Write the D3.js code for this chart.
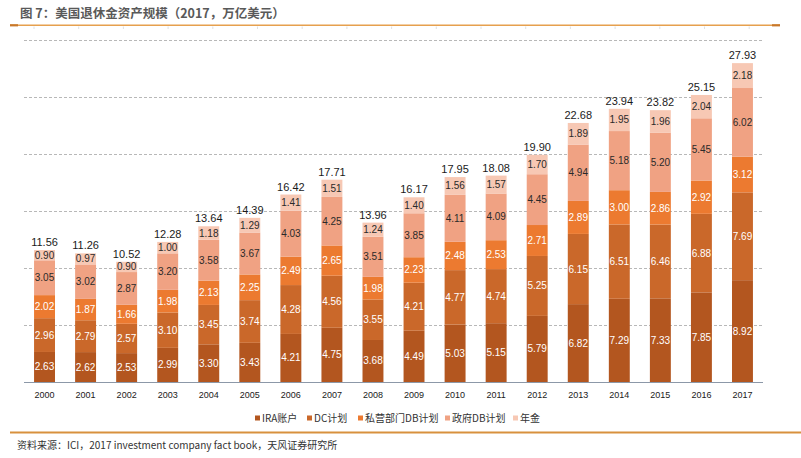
<!DOCTYPE html>
<html>
<head>
<meta charset="utf-8">
<script src="https://cdn.jsdelivr.net/npm/d3@7"></script>
<style>
  html, body { margin: 0; padding: 0; background: #fff; }
  svg { display: block; }
</style>
</head>
<body>
<svg id="chart" width="801" height="458"></svg>
<script>
const years = ["2000","2001","2002","2003","2004","2005","2006","2007","2008","2009","2010","2011","2012","2013","2014","2015","2016","2017"];
const seriesNames = ["IRA账户", "DC计划", "私营部门DB计划", "政府DB计划", "年金"];
const ira     = [2.63,2.62,2.53,2.99,3.30,3.43,4.21,4.75,3.68,4.49,5.03,5.15,5.79,6.82,7.29,7.33,7.85,8.92];
const dc      = [2.96,2.79,2.57,3.10,3.45,3.74,4.28,4.56,3.55,4.21,4.77,4.74,5.25,6.15,6.51,6.46,6.88,7.69];
const privDB  = [2.02,1.87,1.66,1.98,2.13,2.25,2.49,2.65,1.98,2.23,2.48,2.53,2.71,2.89,3.00,2.86,2.92,3.12];
const govDB   = [3.05,3.02,2.87,3.20,3.58,3.67,4.03,4.25,3.51,3.85,4.11,4.09,4.45,4.94,5.18,5.20,5.45,6.02];
const annuity = [0.90,0.97,0.90,1.00,1.18,1.29,1.41,1.51,1.24,1.40,1.56,1.57,1.70,1.89,1.95,1.96,2.04,2.18];
const totals  = [11.56,11.26,10.52,12.28,13.64,14.39,16.42,17.71,13.96,16.17,17.95,18.08,19.90,22.68,23.94,23.82,25.15,27.93];
const gridValues = [5,10,15,20,25,30];

const titleText = "图 7：美国退休金资产规模（2017，万亿美元）";
const sourceText = "资料来源：ICI，2017 investment company fact book，天风证券研究所";

const colors = ["#b3561f", "#ca682a", "#ec7a30", "#f0a283", "#f7c8b4"];
const labelColors = ["#ffffff", "#ffffff", "#ffffff", "#2a2a2a", "#2a2a2a"];
const numFont = "'Liberation Sans Narrow', 'Liberation Sans', Arial, sans-serif";
const cjkFont = "'Noto Sans CJK SC', 'Microsoft YaHei', sans-serif";

const rows = years.map((y, i) => ({
  year: y, "IRA账户": ira[i], "DC计划": dc[i], "私营部门DB计划": privDB[i], "政府DB计划": govDB[i], "年金": annuity[i], total: totals[i]
}));
const stacked = d3.stack().keys(seriesNames)(rows);

const svg = d3.select("#chart");
const x = d3.scaleBand().domain(years).range([24, 763]).paddingInner(0.49).paddingOuter(0.245);
const y = d3.scaleLinear().domain([0, 30]).range([382, 39.5]);

// Title
svg.append("text").attr("x", 20).attr("y", 18)
  .attr("font-family", cjkFont).attr("font-size", 12.5).attr("font-weight", "bold")
  .attr("fill", "#595959").text(titleText);

// Top rule line
svg.append("line").attr("x1", 10).attr("x2", 780).attr("y1", 25.3).attr("y2", 25.3)
  .attr("stroke", "#e6a04e").attr("stroke-width", 1.6);
svg.append("line").attr("x1", 10).attr("x2", 18).attr("y1", 25.3).attr("y2", 25.3)
  .attr("stroke", "#c8782a").attr("stroke-width", 2.2);
svg.append("line").attr("x1", 772).attr("x2", 780).attr("y1", 25.3).attr("y2", 25.3)
  .attr("stroke", "#c8782a").attr("stroke-width", 2.2);
const rulerTicks = d3.range(17);
svg.append("g").selectAll("line").data(rulerTicks).join("line")
  .attr("x1", d => 34 + d * 44.7).attr("x2", d => 34 + d * 44.7)
  .attr("y1", 26.5).attr("y2", 29)
  .attr("stroke", "#d8d8d8").attr("stroke-width", 0.8);

// Gridlines
svg.append("g").selectAll("line").data(gridValues).join("line")
  .attr("x1", 24).attr("x2", 763)
  .attr("y1", d => Math.round(y(d)) + 0.5).attr("y2", d => Math.round(y(d)) + 0.5)
  .attr("stroke", "#a6a6a6").attr("stroke-width", 0.8).attr("stroke-dasharray", "3,2");

// Bars
const layers = svg.append("g").selectAll("g").data(stacked).join("g")
  .attr("fill", (d, i) => colors[i]);
layers.selectAll("rect").data(d => d).join("rect")
  .attr("x", d => x(d.data.year))
  .attr("width", x.bandwidth())
  .attr("y", d => y(d[1]))
  .attr("height", d => y(d[0]) - y(d[1]));

// Segment labels
stacked.forEach((layer, li) => {
  svg.append("g").selectAll("text").data(layer).join("text")
    .attr("x", d => x(d.data.year) + x.bandwidth() / 2)
    .attr("y", d => (y(d[0]) + y(d[1])) / 2 + 3.5)
    .attr("text-anchor", "middle")
    .attr("font-family", numFont).attr("font-size", 10)
    .attr("fill", labelColors[li])
    .text(d => (d[1] - d[0]).toFixed(2));
});

// Total labels
svg.append("g").selectAll("text").data(rows).join("text")
  .attr("x", d => x(d.year) + x.bandwidth() / 2)
  .attr("y", d => y(d.total) - 4)
  .attr("text-anchor", "middle")
  .attr("font-family", numFont).attr("font-size", 11)
  .attr("fill", "#1a1a1a")
  .text(d => d.total.toFixed(2));

// X axis
const xAxis = svg.append("g").attr("transform", "translate(0,382)")
  .call(d3.axisBottom(x).tickSize(0).tickPadding(10));
xAxis.select(".domain").attr("stroke", "#8c98a8").attr("stroke-width", 1).attr("d", "M24,0.5H763");
xAxis.selectAll("text").attr("font-family", numFont).attr("font-size", 9).attr("fill", "#1a1a1a");

// Legend
const legendX = [255, 307, 358, 445, 513];
const legend = svg.append("g").selectAll("g").data(seriesNames).join("g")
  .attr("transform", (d, i) => `translate(${legendX[i]},418)`);
legend.append("rect").attr("x", 0).attr("y", -2.5).attr("width", 5).attr("height", 5)
  .attr("fill", (d, i) => colors[i]);
legend.append("text").attr("x", 7).attr("y", 4)
  .attr("font-family", cjkFont).attr("font-size", 10).attr("fill", "#333")
  .text(d => d);

// Bottom rule
svg.append("line").attr("x1", 10).attr("x2", 801).attr("y1", 432.5).attr("y2", 432.5)
  .attr("stroke", "#d8913e").attr("stroke-width", 2.2);

// Source
svg.append("text").attr("x", 17).attr("y", 448.5)
  .attr("font-family", cjkFont).attr("font-size", 10).attr("fill", "#333")
  .text(sourceText);
</script>
</body>
</html>
